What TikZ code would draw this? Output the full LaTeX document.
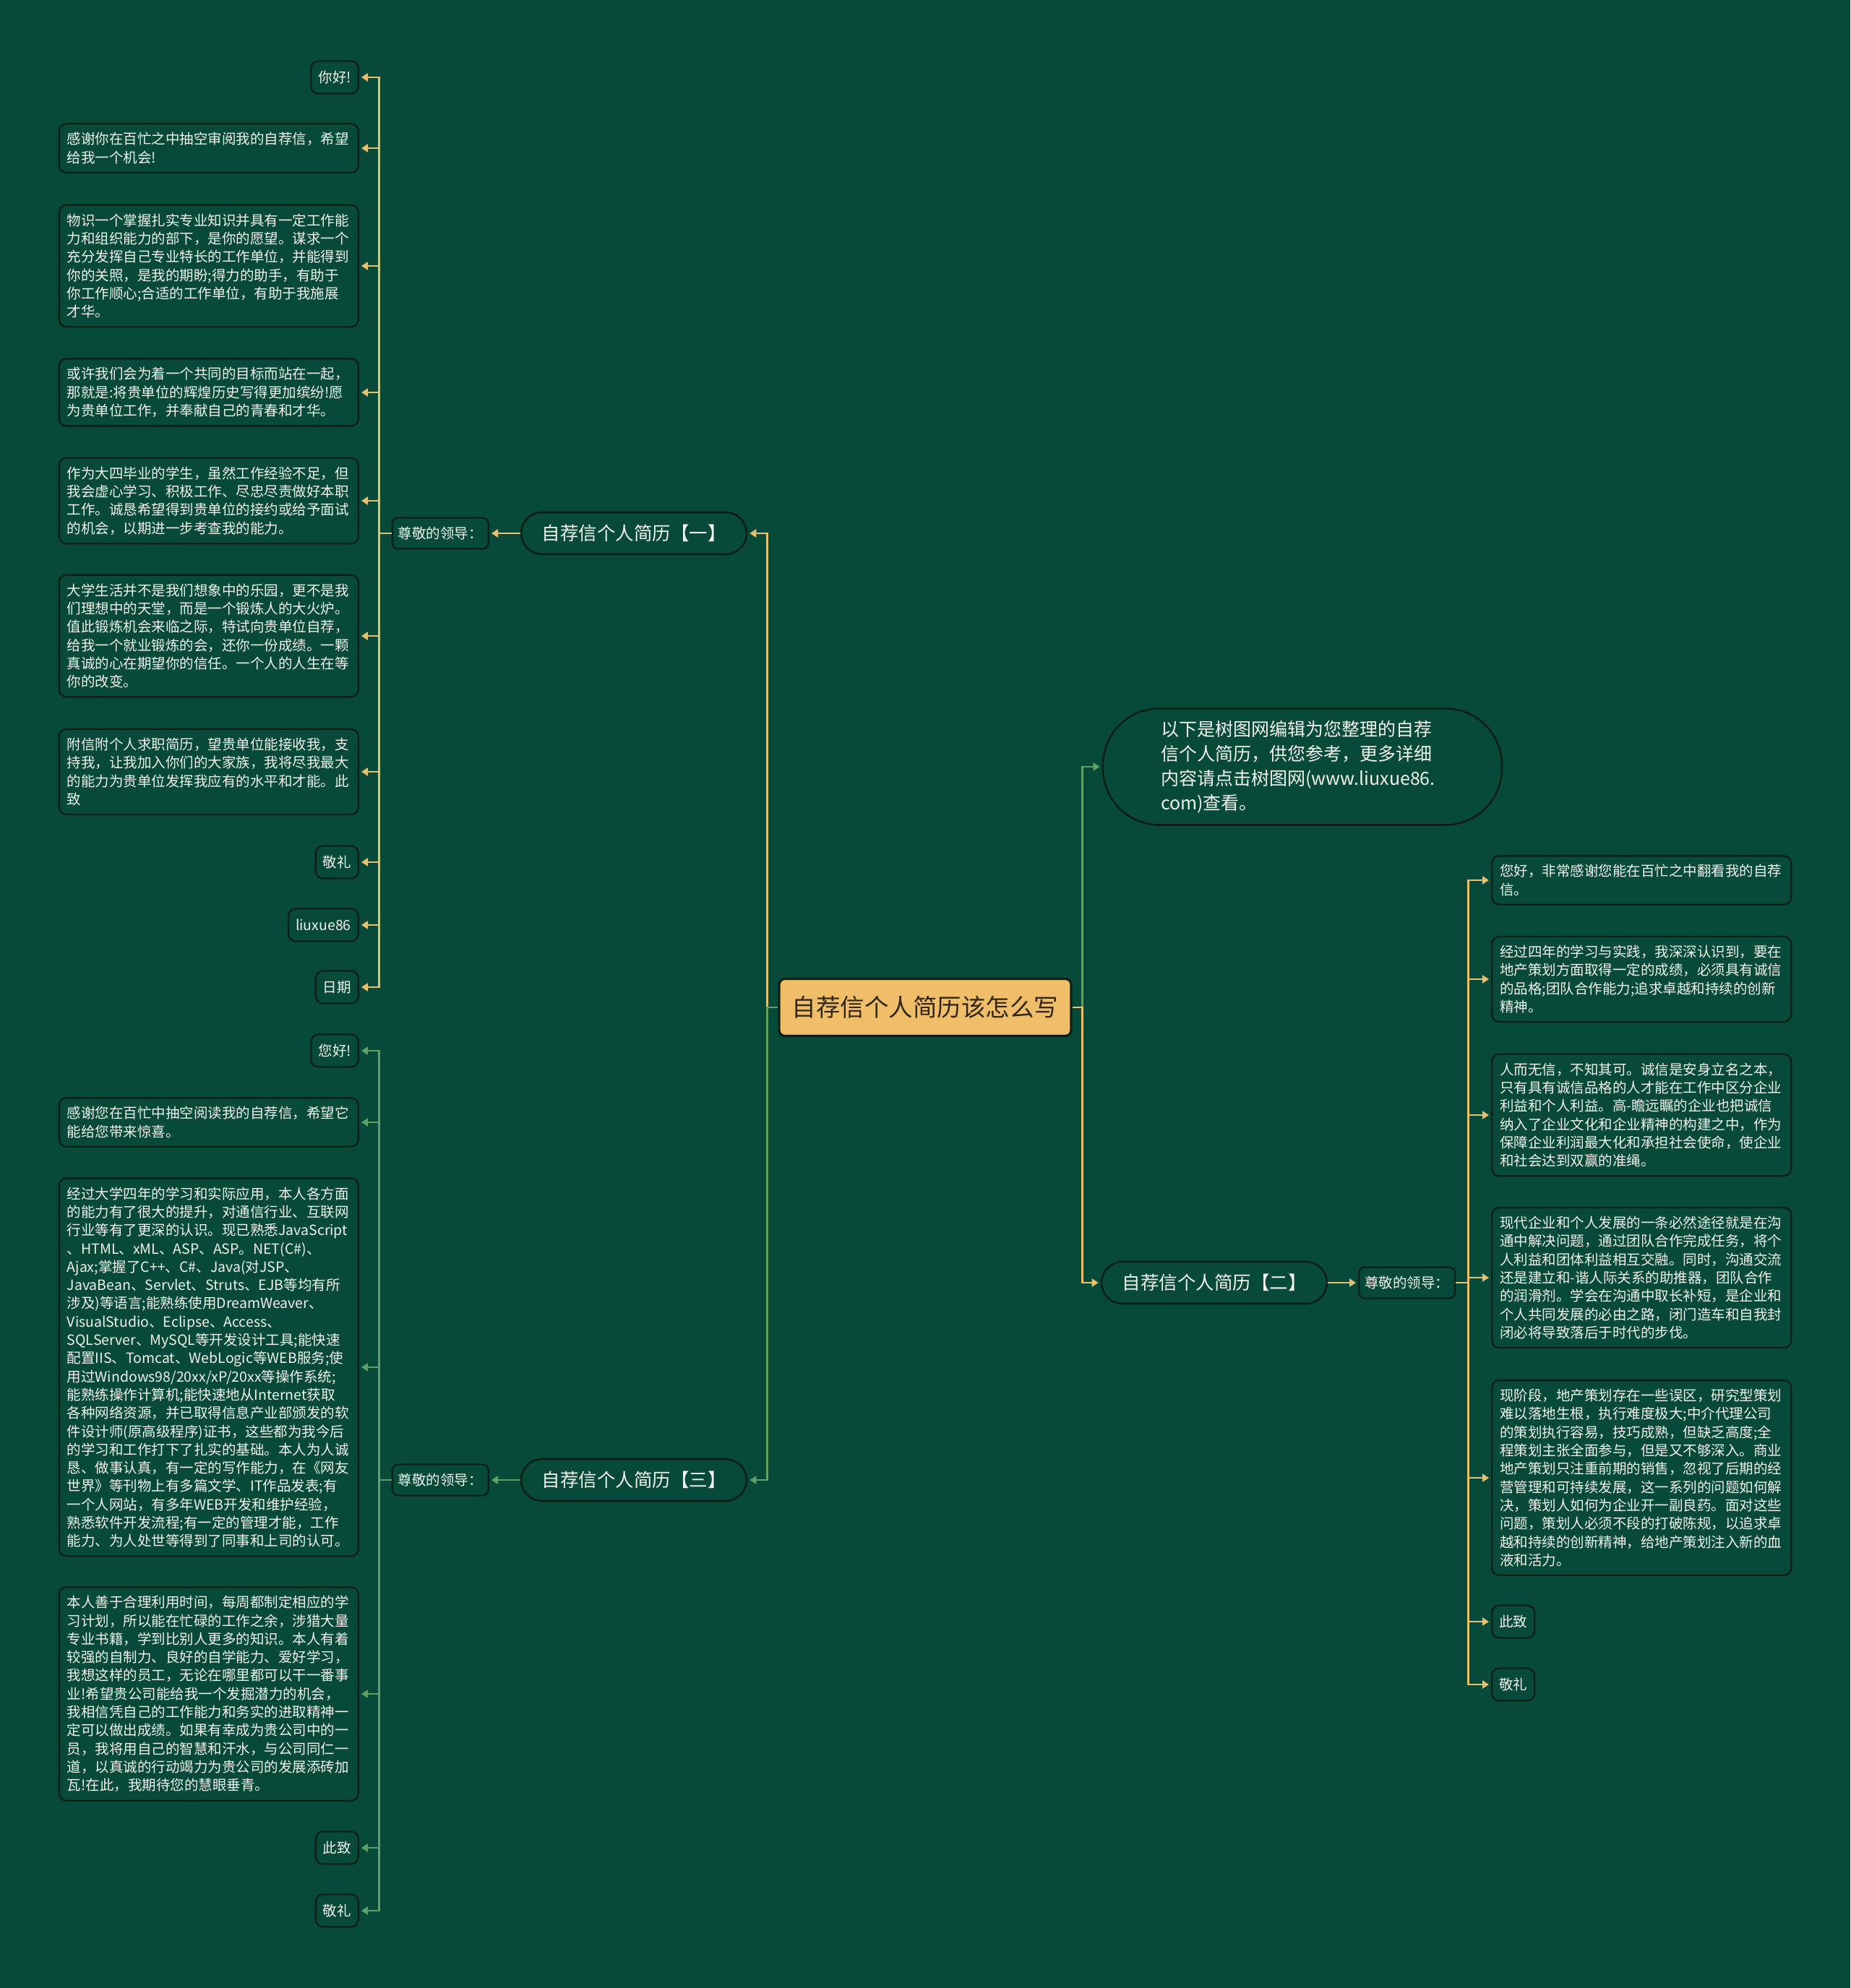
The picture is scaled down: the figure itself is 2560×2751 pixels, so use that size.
\documentclass[tikz,border=0pt]{standalone}
\usepackage{fontspec}
\setmainfont{Noto Sans CJK SC}
\usepackage{xcolor}
\usetikzlibrary{arrows.meta,positioning}

\definecolor{bggreen}{RGB}{7,74,57}
\definecolor{boxline}{RGB}{12,32,24}
\definecolor{ybranch}{RGB}{232,193,110}
\definecolor{gbranch}{RGB}{96,160,102}
\definecolor{roottan}{RGB}{240,190,105}
\definecolor{rootink}{RGB}{48,38,22}
\definecolor{paper}{RGB}{242,242,236}

\tikzset{
  leafbox/.style={draw=boxline,line width=2.4pt,fill=bggreen,rounded corners=10pt,text=paper,
    font=\fontsize{19.5}{25.3}\selectfont,inner xsep=10pt,inner ysep=12pt,minimum height=45pt},
  longbox/.style={leafbox,text width=392pt,align=left,inner xsep=11pt},
  leadbox/.style={leafbox,inner xsep=8pt,minimum height=43pt,rounded corners=8pt},
  pill/.style={draw=boxline,line width=2.6pt,fill=bggreen,rounded corners=29pt,text=paper,
    font=\fontsize{25.5}{30}\selectfont,minimum width=312pt,minimum height=58pt},
  rootbox/.style={draw=boxline,line width=3.2pt,fill=roottan,rounded corners=8pt,text=rootink,
    font=\fontsize{33.5}{40}\selectfont,minimum width=404pt,minimum height=79pt},
  introbox/.style={draw=boxline,line width=2.6pt,fill=bggreen,rounded corners=78pt,text=paper,
    font=\fontsize{25}{34}\selectfont,minimum width=552pt,minimum height=161pt,
    text width=392pt,align=left},
  yline/.style={draw=ybranch,line width=2.7pt,->,shorten >=3pt},
  gline/.style={draw=gbranch,line width=2.7pt,->,shorten >=3pt}
}

\begin{document}
\begin{tikzpicture}[x=1pt,y=-1pt,>={Triangle[length=9pt,width=11pt]}]
\fill[bggreen] (0,0) rectangle (2560,2751);
\useasboundingbox (0,0) rectangle (2560,2751);

% centre and first level
\node[rootbox] (root) at (1280,1394) {自荐信个人简历该怎么写};
\node[introbox] (intro) at (1802,1061) {以下是树图网编辑为您整理的自荐\\信个人简历，供您参考，更多详细\\内容请点击树图网(www.liuxue86.\\com)查看。};
\node[pill] (b1) at (877,738) {自荐信个人简历【一】};
\node[pill] (b2) at (1680,1775) {自荐信个人简历【二】};
\node[pill] (b3) at (877,2048) {自荐信个人简历【三】};
\node[leadbox,anchor=east] (d1) at (677,738) {尊敬的领导：};
\node[leadbox,anchor=west] (d2) at (1879,1775) {尊敬的领导：};
\node[leadbox,anchor=east] (d3) at (677,2048) {尊敬的领导：};

% branch one
\node[leafbox,anchor=east] (a1) at (497,107) {你好!};
\node[longbox,anchor=east] (a2) at (497,205) {感谢你在百忙之中抽空审阅我的自荐信，希望\\给我一个机会!};
\node[longbox,anchor=east] (a3) at (497,368) {物识一个掌握扎实专业知识并具有一定工作能\\力和组织能力的部下，是你的愿望。谋求一个\\充分发挥自己专业特长的工作单位，并能得到\\你的关照，是我的期盼;得力的助手，有助于\\你工作顺心;合适的工作单位，有助于我施展\\才华。};
\node[longbox,anchor=east] (a4) at (497,543) {或许我们会为着一个共同的目标而站在一起，\\那就是:将贵单位的辉煌历史写得更加缤纷!愿\\为贵单位工作，并奉献自己的青春和才华。};
\node[longbox,anchor=east] (a5) at (497,693) {作为大四毕业的学生，虽然工作经验不足，但\\我会虚心学习、积极工作、尽忠尽责做好本职\\工作。诚恳希望得到贵单位的接约或给予面试\\的机会，以期进一步考查我的能力。};
\node[longbox,anchor=east] (a6) at (497,880) {大学生活并不是我们想象中的乐园，更不是我\\们理想中的天堂，而是一个锻炼人的大火炉。\\值此锻炼机会来临之际，特试向贵单位自荐，\\给我一个就业锻炼的会，还你一份成绩。一颗\\真诚的心在期望你的信任。一个人的人生在等\\你的改变。};
\node[longbox,anchor=east] (a7) at (497,1068) {附信附个人求职简历，望贵单位能接收我，支\\持我，让我加入你们的大家族，我将尽我最大\\的能力为贵单位发挥我应有的水平和才能。此\\致};
\node[leafbox,anchor=east] (a8) at (497,1193) {敬礼};
\node[leafbox,anchor=east] (a9) at (497,1280) {liuxue86};
\node[leafbox,anchor=east] (a10) at (497,1366) {日期};

% branch two
\node[longbox,anchor=west] (c1) at (2063,1218) {您好，非常感谢您能在百忙之中翻看我的自荐\\信。};
\node[longbox,anchor=west] (c2) at (2063,1355) {经过四年的学习与实践，我深深认识到，要在\\地产策划方面取得一定的成绩，必须具有诚信\\的品格;团队合作能力;追求卓越和持续的创新\\精神。};
\node[longbox,anchor=west] (c3) at (2063,1543) {人而无信，不知其可。诚信是安身立名之本，\\只有具有诚信品格的人才能在工作中区分企业\\利益和个人利益。高-瞻远瞩的企业也把诚信\\纳入了企业文化和企业精神的构建之中，作为\\保障企业利润最大化和承担社会使命，使企业\\和社会达到双赢的准绳。};
\node[longbox,anchor=west] (c4) at (2063,1768) {现代企业和个人发展的一条必然途径就是在沟\\通中解决问题，通过团队合作完成任务，将个\\人利益和团体利益相互交融。同时，沟通交流\\还是建立和-谐人际关系的助推器，团队合作\\的润滑剂。学会在沟通中取长补短，是企业和\\个人共同发展的必由之路，闭门造车和自我封\\闭必将导致落后于时代的步伐。};
\node[longbox,anchor=west] (c5) at (2063,2045) {现阶段，地产策划存在一些误区，研究型策划\\难以落地生根，执行难度极大;中介代理公司\\的策划执行容易，技巧成熟，但缺乏高度;全\\程策划主张全面参与，但是又不够深入。商业\\地产策划只注重前期的销售，忽视了后期的经\\营管理和可持续发展，这一系列的问题如何解\\决，策划人如何为企业开一副良药。面对这些\\问题，策划人必须不段的打破陈规，以追求卓\\越和持续的创新精神，给地产策划注入新的血\\液和活力。};
\node[leafbox,anchor=west] (c6) at (2063,2244) {此致};
\node[leafbox,anchor=west] (c7) at (2063,2331) {敬礼};

% branch three
\node[leafbox,anchor=east] (e1) at (497,1454) {您好!};
\node[longbox,anchor=east] (e2) at (497,1553) {感谢您在百忙中抽空阅读我的自荐信，希望它\\能给您带来惊喜。};
\node[longbox,anchor=east] (e3) at (497,1892) {经过大学四年的学习和实际应用，本人各方面\\的能力有了很大的提升，对通信行业、互联网\\行业等有了更深的认识。现已熟悉JavaScript\\、HTML、xML、ASP、ASP。NET(C\#)、\\Ajax;掌握了C++、C\#、Java(对JSP、\\JavaBean、Servlet、Struts、EJB等均有所\\涉及)等语言;能熟练使用DreamWeaver、\\VisualStudio、Eclipse、Access、\\SQLServer、MySQL等开发设计工具;能快速\\配置IIS、Tomcat、WebLogic等WEB服务;使\\用过Windows98/20xx/xP/20xx等操作系统;\\能熟练操作计算机;能快速地从Internet获取\\各种网络资源，并已取得信息产业部颁发的软\\件设计师(原高级程序)证书，这些都为我今后\\的学习和工作打下了扎实的基础。本人为人诚\\恳、做事认真，有一定的写作能力，在《网友\\世界》等刊物上有多篇文学、IT作品发表;有\\一个人网站，有多年WEB开发和维护经验，\\熟悉软件开发流程;有一定的管理才能，工作\\能力、为人处世等得到了同事和上司的认可。};
\node[longbox,anchor=east] (e4) at (497,2344) {本人善于合理利用时间，每周都制定相应的学\\习计划，所以能在忙碌的工作之余，涉猎大量\\专业书籍，学到比别人更多的知识。本人有着\\较强的自制力、良好的自学能力、爱好学习，\\我想这样的员工，无论在哪里都可以干一番事\\业!希望贵公司能给我一个发掘潜力的机会，\\我相信凭自己的工作能力和务实的进取精神一\\定可以做出成绩。如果有幸成为贵公司中的一\\员，我将用自己的智慧和汗水，与公司同仁一\\道，以真诚的行动竭力为贵公司的发展添砖加\\瓦!在此，我期待您的慧眼垂青。};
\node[leafbox,anchor=east] (e5) at (497,2557) {此致};
\node[leafbox,anchor=east] (e6) at (497,2644) {敬礼};

% connectors
\draw[yline] (root.west) -- ++(-15,0) |- (b1.east);
\draw[gline] (root.west) -- ++(-15,0) |- (b3.east);
\draw[gline] (root.east) -- ++(14,0) |- (intro.west);
\draw[yline] (root.east) -- ++(14,0) |- (b2.west);
\draw[yline] (b1.west) -- (d1.east);
\draw[yline] (b2.east) -- (d2.west);
\draw[gline] (b3.west) -- (d3.east);
\foreach \i in {1,...,10}
  \draw[yline] (d1.west) -- ++(-17,0) |- (a\i.east);
\foreach \i in {1,...,7}
  \draw[yline] (d2.east) -- ++(17,0) |- (c\i.west);
\foreach \i in {1,...,6}
  \draw[gline] (d3.west) -- ++(-17,0) |- (e\i.east);
\end{tikzpicture}
\end{document}
